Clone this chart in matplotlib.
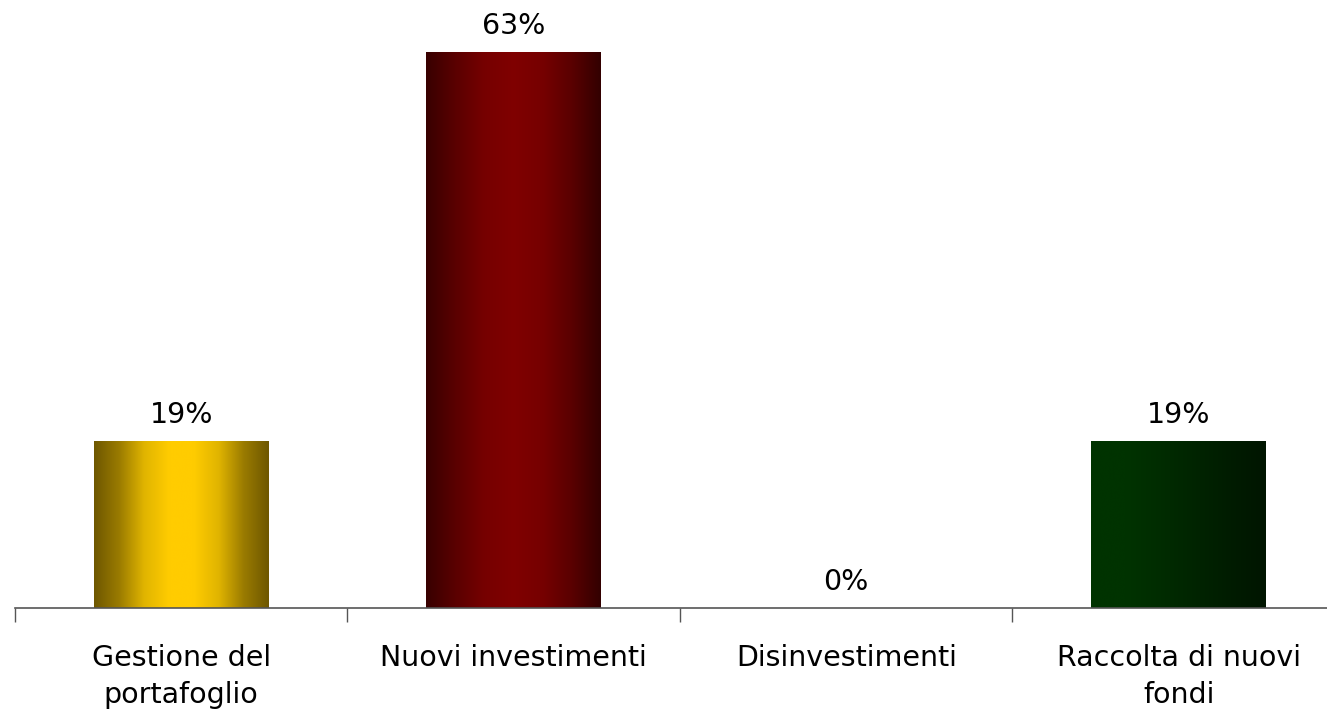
import numpy as np
import matplotlib.pyplot as plt
from matplotlib.colors import LinearSegmentedColormap

categories = ['Gestione del\nportafoglio', 'Nuovi investimenti', 'Disinvestimenti', 'Raccolta di nuovi\nfondi']
values = [18.75, 62.5, 0.0, 18.75]
labels = ['19%', '63%', '0%', '19%']

# gradient stops per bar (left -> right)
gradients = [
    ['#6e5700', '#9a7b00', '#e0b400', '#ffcc00', '#ffcc00', '#e0b400', '#9a7b00', '#6e5700'],
    ['#380000', '#5a0000', '#760000', '#800000', '#760000', '#5a0000', '#330000'],
    ['#003300', '#003300', '#002c00', '#002400', '#001c00', '#001500'],
    ['#003300', '#003300', '#002c00', '#002400', '#001c00', '#001500'],
]

FS = 20.5

fig = plt.figure(figsize=(13.27, 7.11), dpi=100)
ax = fig.add_axes([15 / 1327, 103 / 711, 1330 / 1327, 605 / 711])

x = np.arange(len(categories))
bars = ax.bar(x, values, width=0.526, color='none', edgecolor='none')

grad = np.linspace(0, 1, 256).reshape(1, -1)
for b, stops in zip(bars, gradients):
    if b.get_height() <= 0:
        continue
    cmap = LinearSegmentedColormap.from_list('g', stops)
    x0, w, h = b.get_x(), b.get_width(), b.get_height()
    im = ax.imshow(grad, cmap=cmap, aspect='auto', extent=[x0, x0 + w, 0, h],
                   interpolation='bicubic', zorder=2)
    im.set_clip_path(b)

for xi, v, lab in zip(x, values, labels):
    ax.text(xi, v + 2.0, lab, ha='center', va='baseline', fontsize=FS, color='black')

ax.set_xlim(-0.5, 3.5)
ax.set_ylim(0, 68)

ax.set_yticks([])
ax.set_xticks(np.arange(-0.5, 4.0, 1.0))
ax.set_xticklabels([])
ax.tick_params(axis='x', direction='out', length=10, color='#555555', width=1)
for xi, c in zip(x, categories):
    ax.text(xi, -4.1, c, ha='center', va='top', fontsize=FS, color='black', linespacing=1.38)

for s in ['top', 'right', 'left']:
    ax.spines[s].set_visible(False)
ax.spines['bottom'].set_color('#555555')
ax.spines['bottom'].set_linewidth(1.2)
ax.spines['bottom'].set_zorder(3)

fig.savefig('out.png', dpi=100)
